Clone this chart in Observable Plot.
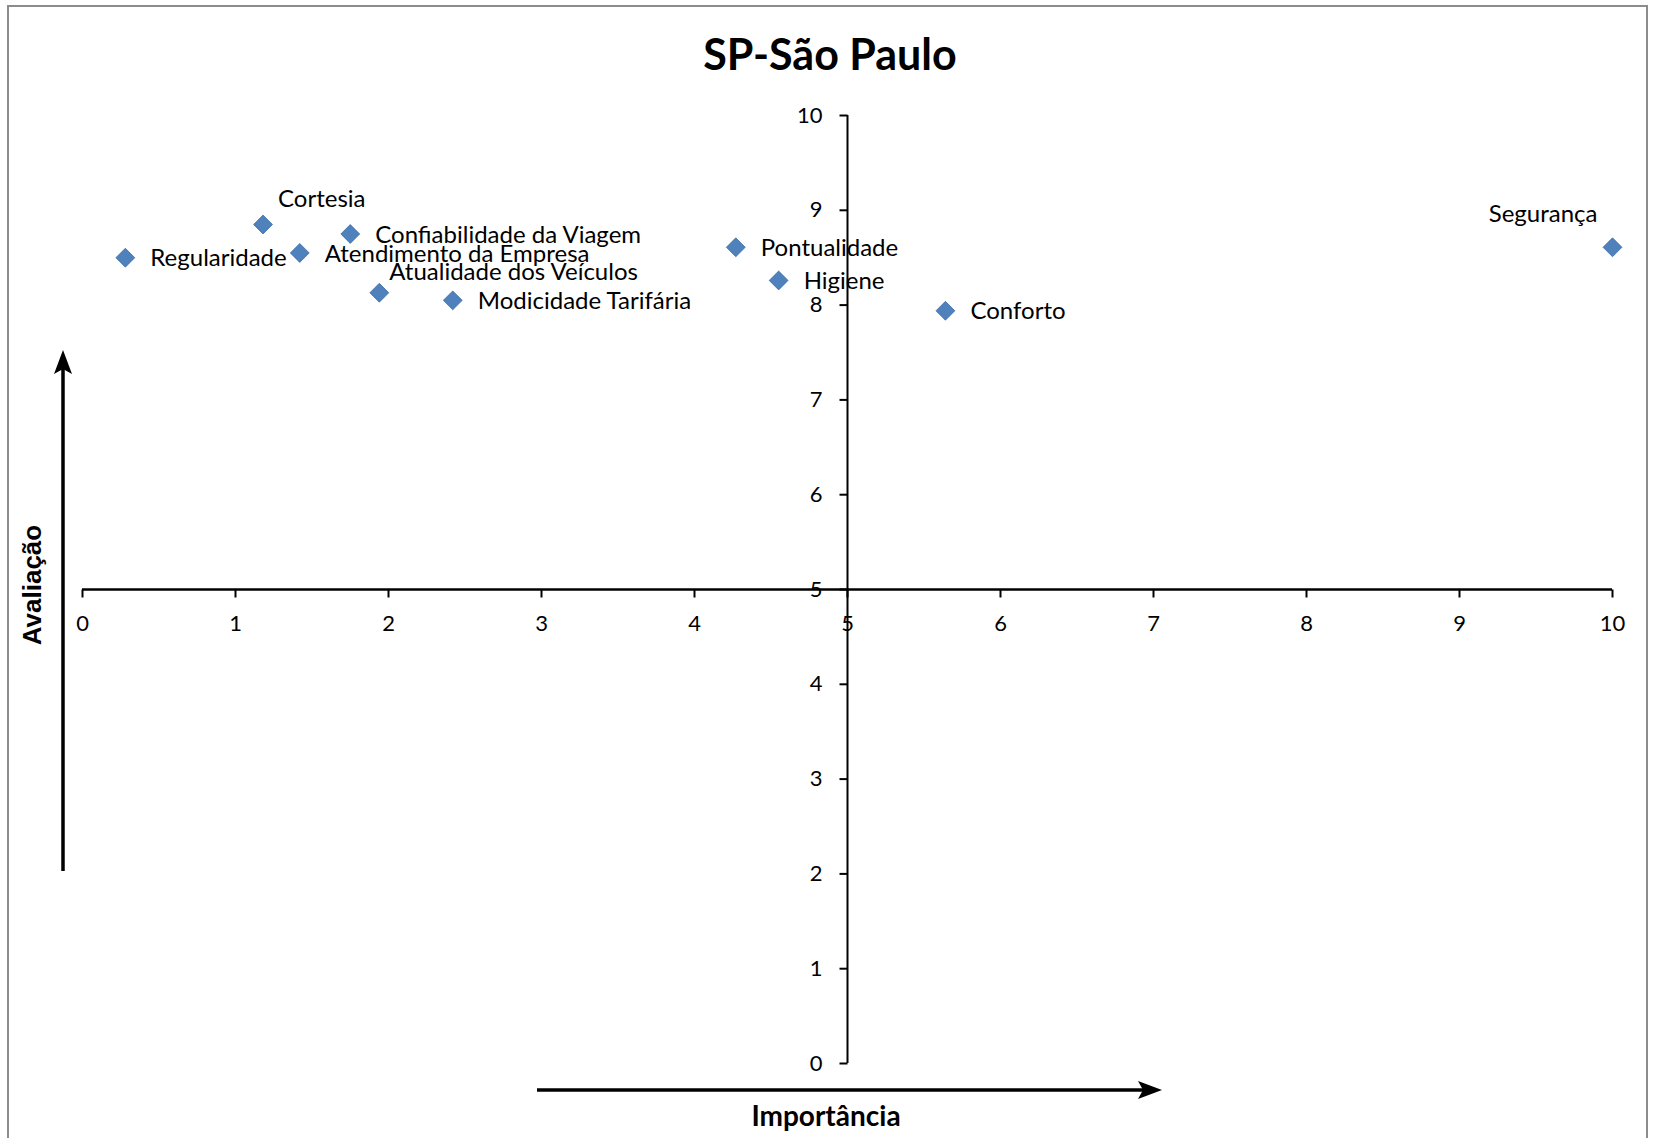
<!DOCTYPE html>
<html>
<head>
<meta charset="utf-8">
<script src="https://cdn.jsdelivr.net/npm/d3@7"></script>
<script src="https://cdn.jsdelivr.net/npm/@observablehq/plot@0.6"></script>
<style>
  html, body { margin: 0; padding: 0; background: #fff; }
  #wrap { position: relative; width: 1655px; height: 1138px; overflow: hidden; font-family: Lato, "Open Sans", sans-serif; }
  #border { position: absolute; left: 7px; top: 5px; width: 1641px; height: 1200px; border: 2px solid #8c8c8c; box-sizing: border-box; }
  #title { position: absolute; left: 0; width: 1660px; top: 32px; text-align: center; font-weight: 700; font-size: 43px; color: #000; line-height: 1; }
  #xlabel { position: absolute; left: 0; width: 1652px; top: 1101px; text-align: center; font-weight: 700; font-size: 28px; color: #000; line-height: 1; }
  #ylabel { position: absolute; left: 32px; top: 585px; transform: translate(-50%, -50%) rotate(-90deg); font-family: "Liberation Sans", Arial, sans-serif; font-weight: 700; font-size: 26px; white-space: nowrap; line-height: 1; }
  #chart { position: absolute; left: 0; top: 0; }
</style>
</head>
<body>
<div id="wrap">
  <div id="border"></div>
  <div id="chart"></div>
  <div id="title">SP-São Paulo</div>
  <div id="xlabel">Importância</div>
  <div id="ylabel">Avaliação</div>
</div>
<script>
// ---- Data ----
const attributes = ["Regularidade", "Cortesia", "Atendimento da Empresa", "Confiabilidade da Viagem", "Atualidade dos Veículos", "Modicidade Tarifária", "Pontualidade", "Higiene", "Conforto", "Segurança"];
const importancia = [0.28, 1.18, 1.42, 1.75, 1.94, 2.42, 4.27, 4.55, 5.64, 10.0];
const avaliacao = [8.50, 8.85, 8.55, 8.75, 8.13, 8.05, 8.61, 8.26, 7.94, 8.61];
const xTicks = [0, 1, 2, 3, 4, 5, 6, 7, 8, 9, 10];
const yTicks = [0, 1, 2, 3, 4, 5, 6, 7, 8, 9, 10];
const crossX = 5; // vertical axis crosses at Importância = 5
const crossY = 5; // horizontal axis crosses at Avaliação = 5

// ---- Build ----
const points = attributes.map((name, i) => ({ name, x: importancia[i], y: avaliacao[i] }));
const placement = { "Cortesia": "above", "Atualidade dos Veículos": "aboveRight", "Segurança": "aboveLeft" };
const place = d => placement[d.name] || "right";

const tickDown = { draw(ctx) { ctx.moveTo(0, 0); ctx.lineTo(0, 8); } };
const tickLeft = { draw(ctx) { ctx.moveTo(0, 0); ctx.lineTo(-8, 0); } };

const W = 1655, H = 1138;
const blue = "#4F81BD";
const tickFont = { fontSize: 22, fill: "#000" };
const labelFont = { fontSize: 24, fill: "#000" };

const chart = Plot.plot({
  width: W,
  height: H,
  marginLeft: 82,
  marginRight: 43,
  marginTop: 115,
  marginBottom: 75,
  style: { fontFamily: "Lato, 'Open Sans', sans-serif", background: "transparent" },
  x: { domain: [xTicks[0], xTicks[xTicks.length - 1]], axis: null },
  y: { domain: [yTicks[0], yTicks[yTicks.length - 1]], axis: null },
  marks: [
    Plot.ruleY([crossY], { x1: xTicks[0], x2: xTicks[xTicks.length - 1], stroke: "#000", strokeWidth: 2.5 }),
    Plot.ruleX([crossX], { y1: yTicks[0], y2: yTicks[yTicks.length - 1], stroke: "#000", strokeWidth: 2 }),
    Plot.dot(xTicks, { x: d => d, y: () => crossY, symbol: tickDown, stroke: "#000", fill: "none", strokeWidth: 2, r: 5 }),
    Plot.dot(yTicks, { x: () => crossX, y: d => d, symbol: tickLeft, stroke: "#000", fill: "none", strokeWidth: 2, r: 5 }),
    Plot.text(xTicks, { x: d => d, y: () => crossY, text: d => String(d), dy: 34, textAnchor: "middle", ...tickFont }),
    Plot.text(yTicks, { x: () => crossX, y: d => d, text: d => String(d), dx: -25, textAnchor: "end", ...tickFont }),
    Plot.dot(points, { x: "x", y: "y", symbol: "diamond2", r: 8.5, fill: blue, stroke: "#3E6DA6", strokeWidth: 0.8 }),
    Plot.text(points.filter(d => place(d) === "right"), { x: "x", y: "y", text: "name", dx: 25, dy: 1, textAnchor: "start", ...labelFont }),
    Plot.text(points.filter(d => place(d) === "above"), { x: "x", y: "y", text: "name", dx: 15, dy: -25, textAnchor: "start", ...labelFont }),
    Plot.text(points.filter(d => place(d) === "aboveRight"), { x: "x", y: "y", text: "name", dx: 10, dy: -20, textAnchor: "start", ...labelFont }),
    Plot.text(points.filter(d => place(d) === "aboveLeft"), { x: "x", y: "y", text: "name", dx: -15, dy: -33, textAnchor: "end", ...labelFont })
  ]
});
document.getElementById("chart").appendChild(chart);

// decorative direction arrows next to the axis titles
const svg = d3.select(chart);
const deco = svg.append("g").attr("fill", "#000").attr("stroke", "#000");
deco.append("line").attr("x1", 537).attr("y1", 1090).attr("x2", 1150).attr("y2", 1090).attr("stroke-width", 3.5);
deco.append("path").attr("d", "M1162,1090 L1138,1081 L1143,1090 L1138,1099 Z").attr("stroke", "none");
deco.append("line").attr("x1", 63).attr("y1", 871).attr("x2", 63).attr("y2", 362).attr("stroke-width", 3.5);
deco.append("path").attr("d", "M63,350 L54,374 L63,369 L72,374 Z").attr("stroke", "none");
</script>
</body>
</html>
